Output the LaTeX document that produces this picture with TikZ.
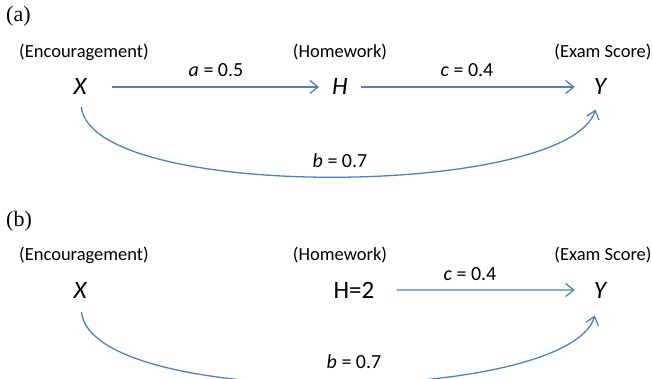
\documentclass[tikz,border=0pt]{standalone}
\usepackage{fontspec}
\setmainfont{Carlito}
\newfontfamily\seriffont{Liberation Serif}
\usetikzlibrary{arrows.meta}
\definecolor{lineblue}{RGB}{79,129,189}
\begin{document}
\begin{tikzpicture}[x=1pt,y=-1pt,
  lbl/.style={anchor=base,inner sep=0pt,font=\fontsize{18.5}{20}\selectfont},
  elbl/.style={anchor=base,inner sep=0pt,font=\fontsize{20}{22}\selectfont},
  var/.style={anchor=base,inner sep=0pt,font=\fontsize{25}{28}\selectfont\itshape},
  varup/.style={anchor=base,inner sep=0pt,font=\fontsize{25}{28}\selectfont},
  panel/.style={anchor=base west,inner sep=0pt,font=\seriffont\fontsize{22}{24}\selectfont},
  conn/.style={draw=lineblue,line width=1.3pt,-{Straight Barb[length=8pt,width=13pt,line width=1.3pt]}}]
\useasboundingbox (0,0) rectangle (652,379);
\clip (0,0) rectangle (652,379);
% ---------- panel (a)
\node[panel] (pa) at (6,22) {(a)};
\node[lbl] (encA) at (84,58) {(Encouragement)};
\node[lbl] (homA) at (340,58) {(Homework)};
\node[lbl] (exA) at (603,58) {(Exam Score)};
\node[var] (XA) at (80,95) {X};
\node[var] (HA) at (340,95) {H};
\node[var] (YA) at (600,95) {Y};
\node[elbl] (aA) at (216,77) {\textit{a} = 0.5};
\node[elbl] (cA) at (467,77) {\textit{c} = 0.4};
\node[elbl] (bA) at (340,168) {\textit{b} = 0.7};
\draw[conn,shorten <=25pt,shorten >=13pt] (XA) -- (HA);
\draw[conn,shorten <=13pt,shorten >=19pt] (HA) -- (YA);
\draw[conn,shorten <=12pt,shorten >=15pt] (XA.south) .. controls (92,202) and (568,198) .. (YA.south);
% ---------- panel (b)
\node[panel] (pb) at (6,226) {(b)};
\node[lbl] (encB) at (84,260) {(Encouragement)};
\node[lbl] (homB) at (340,260) {(Homework)};
\node[lbl] (exB) at (603,260) {(Exam Score)};
\node[var] (XB) at (80,298) {X};
\node[varup] (HB) at (354,298) {H=2};
\node[var] (YB) at (600,298) {Y};
\node[elbl] (cB) at (470,280) {\textit{c} = 0.4};
\node[elbl] (bB) at (354,368) {\textit{b} = 0.7};
\draw[conn,shorten <=22pt,shorten >=19pt] (HB) -- (YB);
\draw[conn,shorten <=14pt,shorten >=18pt] (XB.south) .. controls (92,410) and (568,405) .. (YB.south);
\end{tikzpicture}
\end{document}
